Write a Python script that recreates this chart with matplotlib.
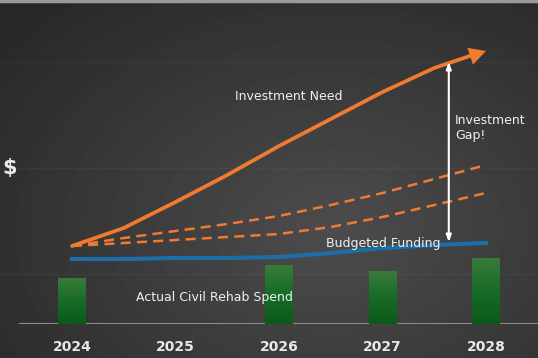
import matplotlib.pyplot as plt
import numpy as np

years = ["2024", "2025", "2026", "2027", "2028"]
# lines read every half year
t = [0, 0.5, 1, 1.5, 2, 2.5, 3, 3.5, 4]
investment_need = [78, 96, 122, 149, 178, 205, 232, 256, 273]
need_high = [78, 86, 93, 100, 108, 119, 131, 145, 159]
need_low = [78, 81, 84, 87, 90, 97, 107, 119, 131]
budgeted = [65, 65, 66, 66, 67, 71, 76, 79, 81]
spend_years = [0, 2, 3, 4]
actual_spend = [46, 59, 53, 66]

ORANGE = "#f07b30"
BLUE = "#1d6ea6"

fig = plt.figure(figsize=(5.38, 3.58), dpi=100)

# background gradient
bg = fig.add_axes([0, 0, 1, 1])
yy, xx = np.mgrid[0:358, 0:538]
r = np.sqrt(((xx - 330) / 420.0) ** 2 + ((yy - 230) / 300.0) ** 2)
shade = np.clip(0.30 - 0.14 * r, 0.16, 0.30)
bg.imshow(shade, cmap="gray", vmin=0, vmax=1, aspect="auto", interpolation="bilinear")
bg.axhline(0.5, color="#9a9a9a", lw=2.5)
bg.set_axis_off()

ax = fig.add_axes([0, 34 / 358, 1, 324 / 358])
ax.patch.set_alpha(0)
x = np.arange(len(years))

ax.set_yticks([50, 156, 262])
ax.grid(axis="y", color="#ffffff", alpha=0.035, lw=1)
ax.tick_params(axis="y", left=False, labelleft=False)
for s in ax.spines.values():
    s.set_visible(False)
ax.axhline(0, xmin=0.037, color="#8c8c8c", lw=1.5)

ax.set_xticks(x)
ax.set_xticklabels(years, color="#e8e8e8", fontsize=10, fontweight="bold")
ax.tick_params(axis="x", bottom=False, pad=8)

# green bars with a light-to-dark vertical gradient
bars = ax.bar(spend_years, actual_spend, width=0.27, color="#176a29", zorder=2)
grad = np.linspace(1, 0, 100).reshape(-1, 1)
green = plt.matplotlib.colors.LinearSegmentedColormap.from_list(
    "g", ["#0c5a19", "#176b27", "#3a7b3a"])
for b in bars:
    x0, y0 = b.get_x(), b.get_y()
    im = ax.imshow(grad, cmap=green, aspect="auto", zorder=2.1,
                   extent=[x0, x0 + b.get_width(), y0, y0 + b.get_height()])
    im.set_clip_path(b)
ax.set_xlim(-0.696, 4.502)
ax.set_ylim(0, 324)

ax.plot(t, budgeted, color=BLUE, lw=3, zorder=3)
ax.plot(t, need_high, color=ORANGE, lw=1.8, ls=(0, (4, 2.5)), zorder=3)
ax.plot(t, need_low, color=ORANGE, lw=1.8, ls=(0, (4, 2.5)), zorder=3)
ax.plot(t[:-1] + [3.9], investment_need[:-1] + [270], color=ORANGE, lw=2.7,
        solid_capstyle="round", solid_joinstyle="round", zorder=4)
ax.annotate("", xy=(t[-1], investment_need[-1]), xytext=(t[-2], investment_need[-2]),
            arrowprops=dict(arrowstyle="-|>,head_length=0.75,head_width=0.4",
                            mutation_scale=16, color=ORANGE, lw=0,
                            shrinkA=0, shrinkB=0), zorder=4)

# investment gap arrow
ax.annotate("", xy=(3.64, 262), xytext=(3.64, 82),
            arrowprops=dict(arrowstyle="<|-|>,head_length=0.4,head_width=0.15",
                            color="white", lw=1.5, shrinkA=0, shrinkB=0), zorder=5)

txt = dict(color="#f0f0f0", fontsize=9, family="DejaVu Sans")
ax.text(2.09, 227, "Investment Need", ha="center", va="center", **txt)
ax.text(3.70, 196, "Investment\nGap!", ha="left", va="center", linespacing=1.2, **txt)
ax.text(3.556, 81, "Budgeted Funding", ha="right", va="center", **txt)
ax.text(1.38, 27, "Actual Civil Rehab Spend", ha="center", va="center", **txt)
fig.text(10 / 538, 1 - 168 / 358, "$", color="#e8e8e8", fontsize=15,
         fontweight="bold", ha="center", va="center")

fig.savefig("out.png", dpi=100)
